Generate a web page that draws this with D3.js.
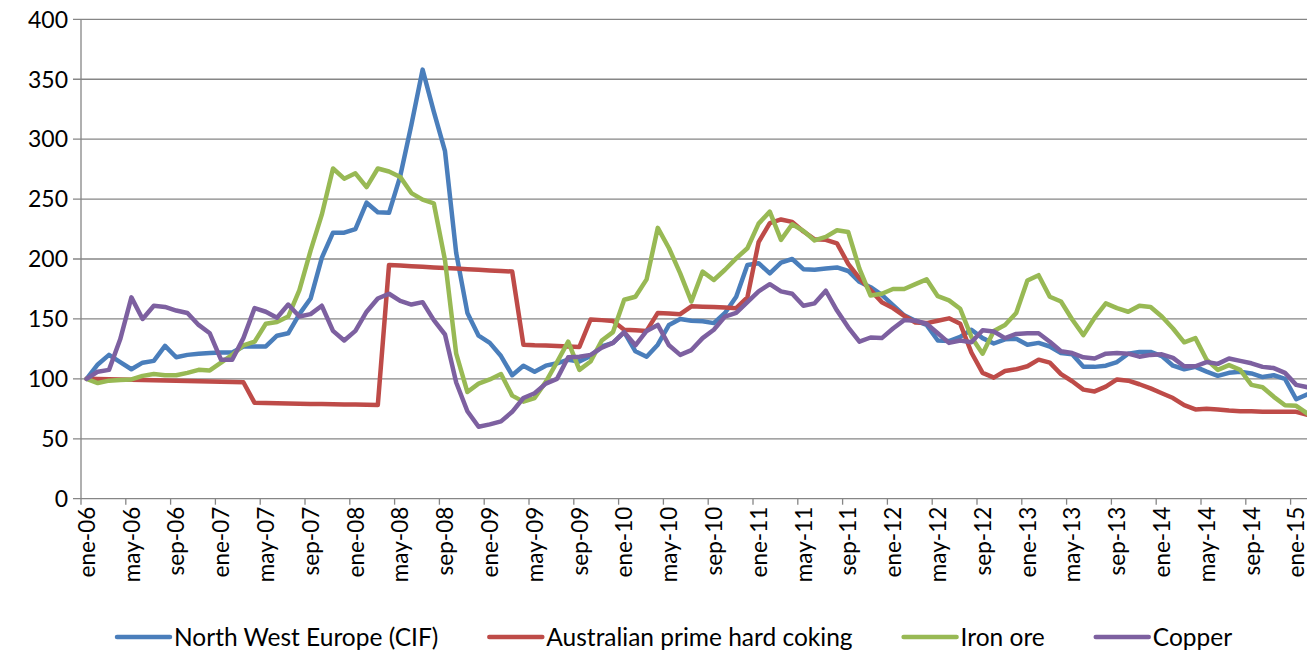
<!DOCTYPE html>
<html>
<head>
<meta charset="utf-8">
<script src="https://cdn.jsdelivr.net/npm/d3@7"></script>
<style>
body { margin: 0; background: #fff; }
text { font-family: Lato, "Open Sans", sans-serif; fill: #000; }
</style>
</head>
<body>
<svg id="chart" width="1307" height="652"></svg>
<script>
// DATA (monthly index, ene-06 = 100)
var nwe = [100,112,120,114,108,113.5,115,127.5,118,120,121,121.5,122,122,127,127,
  127,136,138,154,167,201,222,222,225,247,239,238.5,269,312,358,323,
  290,205,155,136,130,119,103,111,106,111,113,116,114.5,119,127,130,
  139,123,118.5,128.5,145,150,148.5,148,146.5,155,168.5,195,196.5,188,197,200,191.5,191,192,193,
  190,181,176.5,170,161.5,153,148.5,145,132,131.5,135,
  141,134,129.5,133,133.5,128.5,130,127,121.5,120.5,110,110,111,114,121,122.5,
  122.5,119,111,108,110,106,102.5,105,106,104.5,101.5,103,100,83,87];
var coking = [100,99.8,99.6,99.4,99.2,99,98.8,98.6,98.4,98.2,98,97.8,97.6,97.4,97.2,
  80,79.8,79.6,79.5,79.3,79.1,79,78.8,78.6,78.5,78.3,78.1,
  195,194.5,194,193.5,193,192.5,192,191.5,191,190.5,190,189.5,
  128.5,128,127.8,127.4,127,126.6,
  149.5,149,148.2,
  141,140.5,140,
  155,154.5,154,
  160.5,160.2,160,159.5,159,
  168,214,230,233,231,223,216.5,216,213,196,184,174,164,159,152.5,147,146.5,148.5,150.5,146,
  122,105,101,106.5,108,110.5,116,113.5,104,98,91,89.5,93.5,99.5,98.5,95.5,
  92,88,84,78,74.5,75,74.5,73.5,73,73,72.5,72.5,72.5,72.5,70];
var ironOre = [100,96.5,98.5,99,99.5,102.5,104,103,103,105,107.5,107,113.5,120,128,131,
  146,147.5,152,174,207,237,275.5,267,271.5,260,275.5,273,268.5,255,249.5,246.5,
  199,121,89,96,99.5,104,86,81,84,97.5,114,131,107.5,114.5,132,
  139,166,168.5,183,226,209,188,164.5,189.5,182.5,191,200.5,209,229.5,239.5,
  216,229,223.5,215.5,218.5,224,222.5,192,169.5,171,175,175,179,183,169,165.5,158.5,
  135,121,140,145,155,182,186.5,168.5,164.5,149.5,136.5,151,163,159,156,161,
  160,152,142,130.5,134,116,107.5,111.5,107.5,95,93,85,78,77.5,71];
var copper = [100,106,107.5,133,168,150,161,160,157,155,145,138,116,116,134,159,
  156,151,162,152,154,161,140,132,140,156,167,171,165,162,164,149,
  137,97,73,60,62,64.5,72.5,84,88,96,100,118,118.5,120,126,130,
  139,128,140,145,128,120,124,134,141,152,155,164,173,179,173,171,161,163,173.5,157,
  143,131,134.5,134,142,149,148.5,146,138,130,132,
  130.5,140.5,139.5,134,137.5,138,138,131,123,121.5,118,117,121,121.5,121,118.5,
  120,120.5,117.5,110.5,110.5,114,112.5,117,115,113,110,109,105,95,93];

var tickLabels = ["ene-06","may-06","sep-06","ene-07","may-07","sep-07","ene-08","may-08","sep-08",
  "ene-09","may-09","sep-09","ene-10","may-10","sep-10","ene-11","may-11","sep-11",
  "ene-12","may-12","sep-12","ene-13","may-13","sep-13","ene-14","may-14","sep-14","ene-15"];
var seriesNames = ["North West Europe (CIF)", "Australian prime hard coking", "Iron ore", "Copper"];
var seriesColors = ["#4a7ebb", "#be4b48", "#98b954", "#7d60a0"];
var yTicks = [0, 50, 100, 150, 200, 250, 300, 350, 400];

// LAYOUT
var svg = d3.select("#chart");
var width = 1307;
var plotLeft = 81, plotTop = 19.3, plotBottom = 498.7;
var monthW = 11.2;
var nMonths = nwe.length;

var x = d3.scaleLinear().domain([-0.5, nMonths - 0.5]).range([plotLeft, plotLeft + nMonths * monthW]);
var y = d3.scaleLinear().domain([0, 400]).range([plotBottom, plotTop]);

// gridlines + y labels
svg.append("g").selectAll("line").data(yTicks).enter().append("line")
  .attr("x1", plotLeft - 8).attr("x2", width)
  .attr("y1", function (d) { return y(d); }).attr("y2", function (d) { return y(d); })
  .attr("stroke", "#868686").attr("stroke-width", 1.3);

svg.append("g").selectAll("text").data(yTicks).enter().append("text")
  .attr("x", plotLeft - 13).attr("y", function (d) { return y(d); })
  .attr("dy", "0.36em").attr("text-anchor", "end")
  .style("font-size", "23px")
  .text(function (d) { return d; });

// y axis line
svg.append("line").attr("x1", plotLeft).attr("x2", plotLeft).attr("y1", plotTop).attr("y2", plotBottom)
  .attr("stroke", "#868686").attr("stroke-width", 1.3);

// x ticks (every 4 months, on month boundaries) and labels
var tickIdx = tickLabels.map(function (d, i) { return i * 4; });
svg.append("g").selectAll("line").data(tickIdx).enter().append("line")
  .attr("x1", function (d) { return x(d - 0.5); }).attr("x2", function (d) { return x(d - 0.5); })
  .attr("y1", plotBottom).attr("y2", plotBottom + 6)
  .attr("stroke", "#868686").attr("stroke-width", 1.3);

svg.append("g").selectAll("text").data(tickLabels).enter().append("text")
  .attr("transform", function (d, i) { return "translate(" + x(tickIdx[i]) + "," + (plotBottom + 8) + ") rotate(-90)"; })
  .attr("dy", "0.36em").attr("text-anchor", "end")
  .style("font-size", "22.5px")
  .text(function (d) { return d; });

// LINES
var allSeries = [nwe, coking, ironOre, copper];
var line = d3.line()
  .x(function (d, i) { return x(i); })
  .y(function (d) { return y(d); });

svg.append("g").selectAll("path").data(allSeries).enter().append("path")
  .attr("d", line)
  .attr("fill", "none")
  .attr("stroke", function (d, i) { return seriesColors[i]; })
  .attr("stroke-width", 4.5)
  .attr("stroke-linejoin", "round")
  .attr("stroke-linecap", "round");

// LEGEND
var legend = svg.append("g");
var lx = 117, ly = 637;
seriesNames.forEach(function (name, i) {
  legend.append("line")
    .attr("x1", lx).attr("x2", lx + 53).attr("y1", ly).attr("y2", ly)
    .attr("stroke", seriesColors[i]).attr("stroke-width", 4.5).attr("stroke-linecap", "round");
  var t = legend.append("text")
    .attr("x", lx + 57).attr("y", ly).attr("dy", "0.36em")
    .style("font-size", "24.5px")
    .text(name);
  lx += 57 + t.node().getComputedTextLength() + 51;
});
</script>
</body>
</html>
